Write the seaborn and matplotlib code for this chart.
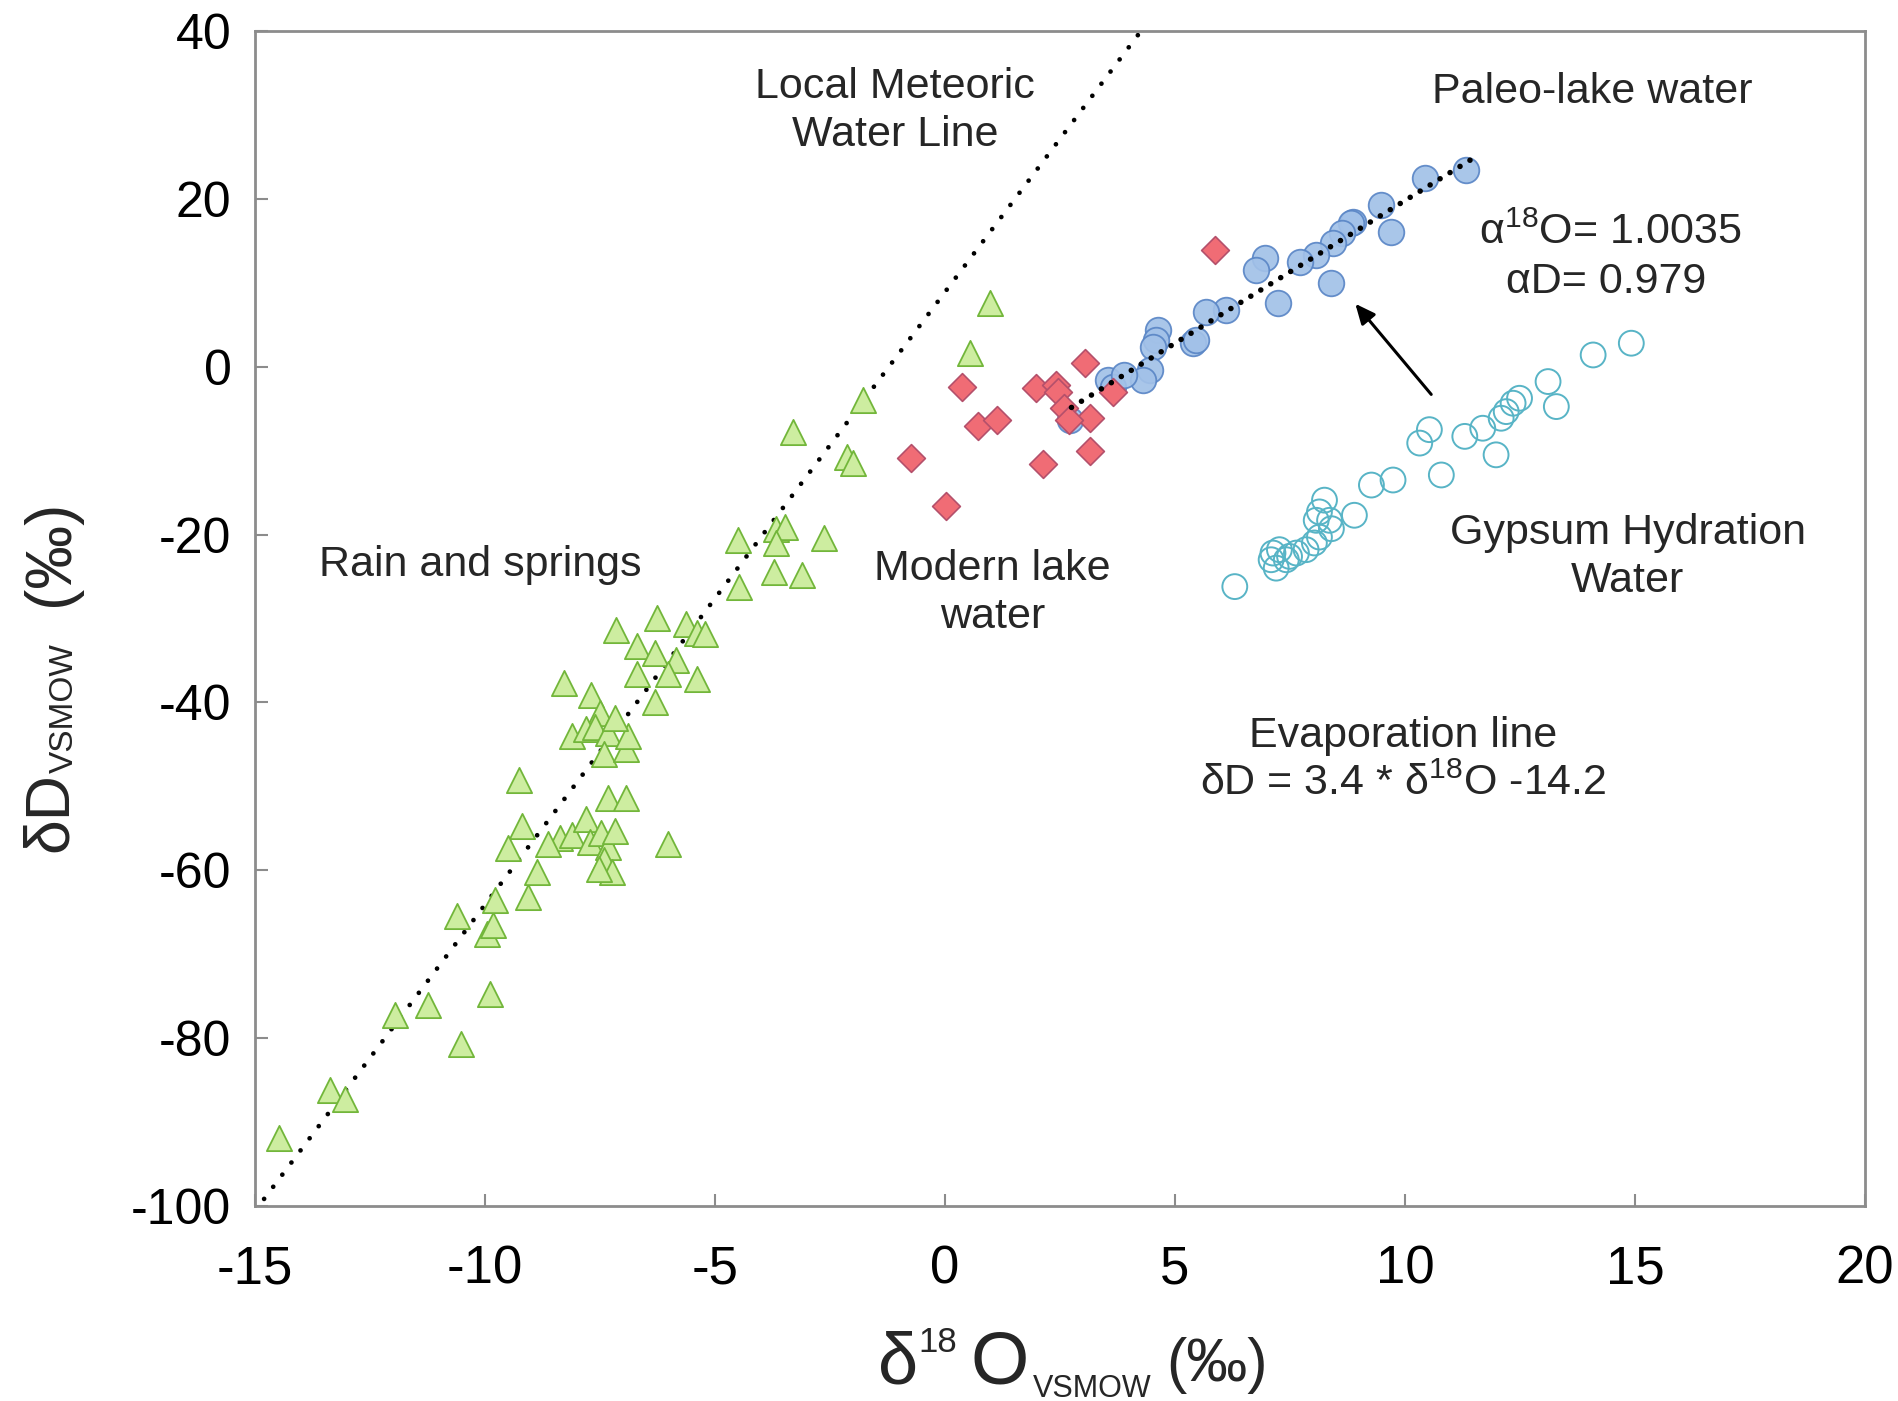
import numpy as np
import pandas as pd
import matplotlib
matplotlib.use("Agg")
import matplotlib.pyplot as plt
import seaborn as sns

# ---------------- data ----------------
rain_d18o = [-14.47, -13.37, -13.05, -11.96, -11.24, -10.53, -9.90, -10.60, -9.95, -9.83,
             -9.78, -9.06, -9.27, -9.20, -9.49, -8.87, -8.38, -8.62, -8.10, -7.80,
             -7.33, -6.94, -7.71, -7.47, -7.33, -7.18, -7.42, -7.23, -7.52, -6.03,
             -8.29, -7.70, -7.50, -8.10, -7.80, -7.60, -7.33, -7.42, -6.94, -6.90,
             -7.18, -7.15, -6.27, -5.64, -5.40, -5.21, -6.70, -6.30, -5.84, -6.70,
             -6.03, -5.40, -6.30, -4.49, -3.67, -3.48, -3.67, -2.64, -3.72, -3.10,
             -4.47, -3.30, -2.13, -2.00, -1.78, 0.54, 0.98]
rain_dd = [-91.9, -86.2, -87.3, -77.2, -76.1, -80.7, -74.7, -65.4, -67.6, -66.5,
           -63.5, -63.2, -49.2, -54.7, -57.4, -60.2, -56.1, -56.9, -55.8, -53.9,
           -51.4, -51.4, -56.6, -55.5, -57.2, -55.3, -58.8, -60.2, -59.9, -56.9,
           -37.7, -39.1, -41.3, -44.0, -43.2, -42.9, -43.7, -46.2, -45.6, -44.0,
           -41.8, -31.4, -30.0, -30.6, -31.7, -31.9, -33.3, -34.1, -35.0, -36.6,
           -36.6, -37.2, -39.9, -20.7, -19.3, -19.1, -21.0, -20.4, -24.5, -24.8,
           -26.2, -7.8, -10.7, -11.5, -4.0, 1.6, 7.6]

modern_d18o = [3.05, 0.37, 1.97, 2.42, 2.46, 2.58, 3.66, 3.16, 0.71, 1.13, 3.16, -0.74,
               2.13, 0.03, 5.87, 2.70]
modern_dd = [0.4, -2.45, -2.5, -2.2, -3.0, -4.9, -3.0, -6.1, -7.1, -6.35, -10.0, -10.9,
             -11.6, -16.6, 13.9, -6.4]

paleo_d18o = [11.33, 10.43, 9.48, 9.70, 8.87, 8.83, 8.62, 8.43, 8.07, 7.71, 8.40, 6.95,
              6.77, 7.24, 6.11, 5.68, 5.39, 4.63, 4.59, 4.52, 4.45, 4.30, 3.54, 3.65,
              2.71, 3.90, 5.46]
paleo_dd = [23.45, 22.46, 19.3, 16.1, 17.3, 17.1, 15.9, 14.7, 13.3, 12.5, 9.95, 12.9,
            11.5, 7.6, 6.77, 6.57, 2.8, 4.4, 3.2, 2.4, -0.4, -1.6, -1.6, -2.4,
            -6.3, -1.0, 3.2]

gypsum_d18o = [14.92, 14.09, 13.11, 13.29, 12.49, 12.35, 12.20, 12.09, 11.69, 11.98,
               11.30, 10.53, 10.32, 10.79, 9.74, 9.27, 8.90, 8.25, 8.14, 8.07,
               8.36, 8.40, 8.14, 8.03, 7.85, 7.64, 7.49, 7.27, 7.13, 7.09,
               7.20, 7.42, 6.30]
gypsum_dd = [2.8, 1.4, -1.77, -4.75, -3.76, -4.35, -5.35, -6.14, -7.33, -10.5,
             -8.3, -7.5, -9.1, -12.9, -13.5, -14.1, -17.7, -15.9, -17.3, -18.3,
             -18.3, -19.3, -20.3, -21.0, -21.8, -22.2, -22.6, -21.8, -22.2, -23.0,
             -24.0, -23.0, -26.2]

# reference lines
lmwl_slope, lmwl_intercept = 7.3, 8.9
lmwl_x = [-15.0, 4.3]
evap_slope, evap_intercept = 3.4, -14.2
evap_x = [2.75, 11.5]

# arrow (tail -> head) in data units
arrow_tail = (10.57, -3.3)
arrow_head = (8.92, 7.5)

x_ticks = [-15, -10, -5, 0, 5, 10, 15, 20]
y_ticks = [-100, -80, -60, -40, -20, 0, 20, 40]
x_lim = (-15, 20)
y_lim = (-100, 40)

# ---------------- style ----------------
sns.set_theme(style="white")
plt.rcParams['font.family'] = ['Liberation Sans', 'DejaVu Sans']
plt.rcParams['mathtext.fontset'] = 'custom'
plt.rcParams['mathtext.rm'] = 'Liberation Sans'
plt.rcParams['mathtext.it'] = 'Liberation Sans:italic'
plt.rcParams['mathtext.bf'] = 'Liberation Sans:bold'

W, H = 1898, 1401
fig = plt.figure(figsize=(W / 100, H / 100), dpi=100)
fig.patch.set_facecolor('white')
ax = fig.add_axes([255 / W, 1 - 1206 / H, (1865 - 255) / W, (1206 - 31) / H])

rain = pd.DataFrame({'d18O': rain_d18o, 'dD': rain_dd})
modern = pd.DataFrame({'d18O': modern_d18o, 'dD': modern_dd})
paleo = pd.DataFrame({'d18O': paleo_d18o, 'dD': paleo_dd})
gyps = pd.DataFrame({'d18O': gypsum_d18o, 'dD': gypsum_dd})

# LMWL dotted line
lx = np.array(lmwl_x)
ax.plot(lx, lmwl_slope * lx + lmwl_intercept, color='black', lw=3.4,
        linestyle=(0, (0.01, 3.2)), dash_capstyle='round', zorder=2)

sns.scatterplot(data=rain, x='d18O', y='dD', ax=ax, marker='^', s=330,
                color='#cdeda0', edgecolor='#72b63a', linewidth=1.3, zorder=3, legend=False)
sns.scatterplot(data=paleo, x='d18O', y='dD', ax=ax, marker='o', s=340,
                color='#a2c1e8', edgecolor='#5a86c6', linewidth=1.3, alpha=0.92, zorder=3,
                legend=False)
sns.scatterplot(data=modern, x='d18O', y='dD', ax=ax, marker='D', s=200,
                color='#f06c75', edgecolor='#b4506b', linewidth=1.2, zorder=4, legend=False)
sns.scatterplot(data=gyps, x='d18O', y='dD', ax=ax, marker='o', s=320,
                facecolors='none', edgecolor='#58b4c6', linewidth=1.4, zorder=3, legend=False)

# Evaporation line
ex = np.array(evap_x)
ax.plot(ex, evap_slope * ex + evap_intercept, color='black', lw=4.0,
        linestyle=(0, (0.01, 2.1)), dash_capstyle='round', zorder=5)

# arrow
ax.annotate('', xy=arrow_head, xytext=arrow_tail,
            arrowprops=dict(arrowstyle='-|>,head_length=1.0,head_width=0.45',
                            color='black', lw=2.2, shrinkA=0, shrinkB=0), zorder=6)

ax.set_xlim(*x_lim)
ax.set_ylim(*y_lim)
ax.set_xticks(x_ticks)
ax.set_yticks(y_ticks)
ax.set_xticklabels([str(t) for t in x_ticks])
ax.set_yticklabels([str(t) for t in y_ticks])
ax.set_xlabel('')
ax.set_ylabel('')

for sp in ax.spines.values():
    sp.set_color('#8c8c8c')
    sp.set_linewidth(2.0)
ax.tick_params(axis='both', which='major', direction='in', length=9, width=1.5,
               color='#8c8c8c', bottom=True, left=True, top=False, right=False,
               labelcolor='black')
ax.tick_params(axis='x', labelsize=38, pad=28)
ax.tick_params(axis='y', labelsize=36, pad=17)

# annotations
fs = 31
ax.text(-1.08, 30.45, 'Local Meteoric\nWater Line', fontsize=fs, ha='center', va='center',
        multialignment='center', linespacing=1.25, zorder=7)
ax.text(14.08, 32.76, 'Paleo-lake water', fontsize=fs, ha='center', va='center', zorder=7)
ax.text(11.6, 15.9, r'$\mathregular{\alpha^{18}}$O= 1.0035', fontsize=fs, ha='left',
        va='center', zorder=7)
ax.text(12.2, 10.1, 'αD= 0.979', fontsize=fs, ha='left', va='center', zorder=7)
ax.text(14.84, -22.65, 'Gypsum Hydration\nWater', fontsize=fs, ha='center', va='center',
        multialignment='center', linespacing=1.25, zorder=7)
ax.text(-10.1, -23.67, 'Rain and springs', fontsize=fs, ha='center', va='center', zorder=7)
ax.text(1.03, -26.98, 'Modern lake\nwater', fontsize=fs, ha='center', va='center',
        multialignment='center', linespacing=1.25, zorder=7)
ax.text(9.97, -46.9, 'Evaporation line\n' + r'δD = 3.4 * δ$\mathregular{^{18}}$O -14.2',
        fontsize=fs, ha='center', va='center', multialignment='center', linespacing=1.25,
        zorder=7)

# axis labels composed of pieces (figure pixel positions)
def ftext(px, py, s, size, rot=0):
    fig.text(px / W, 1 - py / H, s, fontsize=size, ha='left', va='baseline',
             rotation=rot, rotation_mode='anchor')

# x label
ftext(878, 1384, 'δ', 52)
ftext(918, 1352, '18', 25)
ftext(970, 1384, 'O', 54)
ftext(1033, 1397, 'VSMOW', 22)
ftext(1166, 1381, '(‰)', 44)

# y label (rotated)
ftext(67, 852, 'δD', 45, rot=90)
ftext(73, 773, 'VSMOW', 24, rot=90)
ftext(68, 606, '(‰)', 46, rot=90)

fig.savefig('out.png', dpi=100, facecolor='white')
